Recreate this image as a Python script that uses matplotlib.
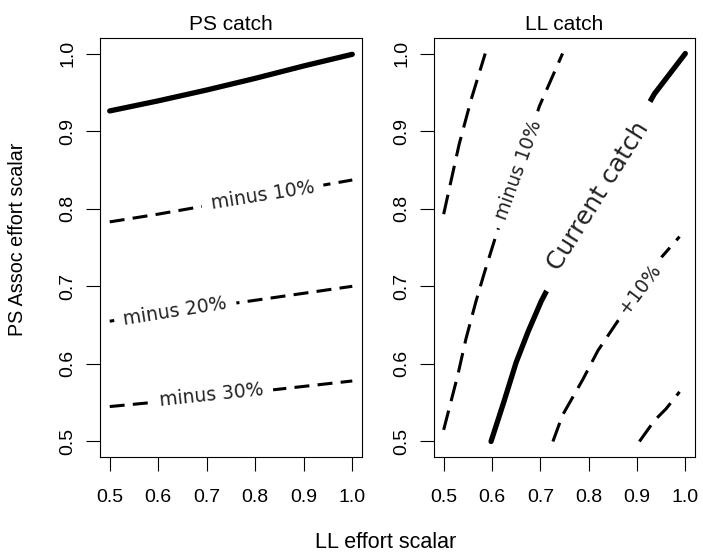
import numpy as np
import matplotlib
matplotlib.use("Agg")
import matplotlib.pyplot as plt

plt.rcParams['font.family'] = ['Liberation Sans', 'DejaVu Sans']

## tick values
ticks = [0.5, 0.6, 0.7, 0.8, 0.9, 1.0]
tick_labels = ["0.5", "0.6", "0.7", "0.8", "0.9", "1.0"]

## PS catch contours (LL effort, PS assoc effort)
ps_cur_x = [0.5, 0.6, 0.7, 0.8, 0.9, 1.0]
ps_cur_y = [0.926, 0.939, 0.953, 0.968, 0.984, 0.999]
ps_m10_x = [0.5, 0.6, 0.7, 0.8, 0.9, 1.0]
ps_m10_y = [0.783, 0.793, 0.804, 0.815, 0.826, 0.837]
ps_m20_x = [0.5, 0.6, 0.7, 0.8, 0.9, 1.0]
ps_m20_y = [0.655, 0.665, 0.673, 0.682, 0.691, 0.700]
ps_m30_x = [0.5, 0.6, 0.7, 0.8, 0.9, 1.0]
ps_m30_y = [0.545, 0.551, 0.557, 0.564, 0.571, 0.578]

## LL catch contours
ll_m20_x = [0.5, 0.532, 0.557, 0.586]
ll_m20_y = [0.793, 0.883, 0.941, 1.0]
ll_m10_x = [0.5, 0.529, 0.546, 0.567, 0.584, 0.608, 0.653, 0.698, 0.746]
ll_m10_y = [0.515, 0.585, 0.632, 0.681, 0.717, 0.765, 0.848, 0.932, 1.0]
ll_cur_x = [0.598, 0.625, 0.65, 0.675, 0.702, 0.815, 0.936, 1.0]
ll_cur_y = [0.5, 0.552, 0.602, 0.642, 0.681, 0.815, 0.948, 1.0]
ll_p10_x = [0.726, 0.746, 0.788, 0.819, 0.86, 0.905, 0.95, 0.988]
ll_p10_y = [0.5, 0.534, 0.58, 0.617, 0.655, 0.696, 0.737, 0.764]
ll_p20_x = [0.905, 0.936, 0.96, 0.988]
ll_p20_y = [0.5, 0.527, 0.542, 0.564]

fig = plt.figure(figsize=(7.03, 5.54), dpi=100)
ax1 = fig.add_axes([100/703, 1-457/554, 262/703, 419/554])
ax2 = fig.add_axes([434/703, 1-457/554, 261/703, 419/554])

solid_lw = 3.8
dash_lw = 2.2


def lab(ax, txt, x, y, ang, size=13.5, pad=0.5):
    ax.text(x, y, txt, rotation=ang, ha='center', va='center',
            rotation_mode='anchor', fontsize=size, family='DejaVu Sans',
            color='#222222', zorder=5,
            bbox=dict(boxstyle='square,pad=%s' % pad, fc='white', ec='none'))


# PS catch
ax1.plot(ps_cur_x, ps_cur_y, color='black', lw=solid_lw, solid_capstyle='round')
for xs, ys in [(ps_m10_x, ps_m10_y), (ps_m20_x, ps_m20_y), (ps_m30_x, ps_m30_y)]:
    ax1.plot(xs, ys, color='black', lw=dash_lw, dashes=(4.9, 2.7))
lab(ax1, "minus 10%", 0.815, 0.817, 9)
lab(ax1, "minus 20%", 0.635, 0.668, 9)
lab(ax1, "minus 30%", 0.71, 0.560, 6)
ax1.set_title("PS catch", fontsize=15, pad=6)

# LL catch
ax2.plot(ll_cur_x, ll_cur_y, color='black', lw=solid_lw, solid_capstyle='round')
for xs, ys in [(ll_m20_x, ll_m20_y), (ll_m10_x, ll_m10_y),
               (ll_p10_x, ll_p10_y), (ll_p20_x, ll_p20_y)]:
    ax2.plot(xs, ys, color='black', lw=dash_lw, dashes=(6.5, 3.2))
lab(ax2, "minus 10%", 0.655, 0.85, 70)
lab(ax2, "Current catch", 0.82, 0.816, 58, size=18, pad=0.9)
lab(ax2, "+10%", 0.906, 0.697, 53)
ax2.set_title("LL catch", fontsize=15, pad=6)

for ax in (ax1, ax2):
    ax.set_xlim(0.48, 1.02)
    ax.set_ylim(0.48, 1.02)
    ax.set_xticks(ticks)
    ax.set_xticklabels(tick_labels)
    ax.set_yticks(ticks)
    ax.set_yticklabels(tick_labels)
    ax.tick_params(axis='both', direction='out', length=10, width=0.8,
                   labelsize=14)
    ax.tick_params(axis='x', pad=13)
    ax.tick_params(axis='y', pad=7, labelrotation=90)
    for t in ax.get_yticklabels():
        t.set_va('center')
    for s in ax.spines.values():
        s.set_linewidth(0.8)

fig.text(386/703, 1-543/554, "LL effort scalar", ha='center', va='center',
         fontsize=15.5)
fig.text(18/703, 1-239/554, "PS Assoc effort scalar", ha='center',
         va='center', rotation=90, fontsize=14.2)

fig.savefig("out.png", dpi=100)
